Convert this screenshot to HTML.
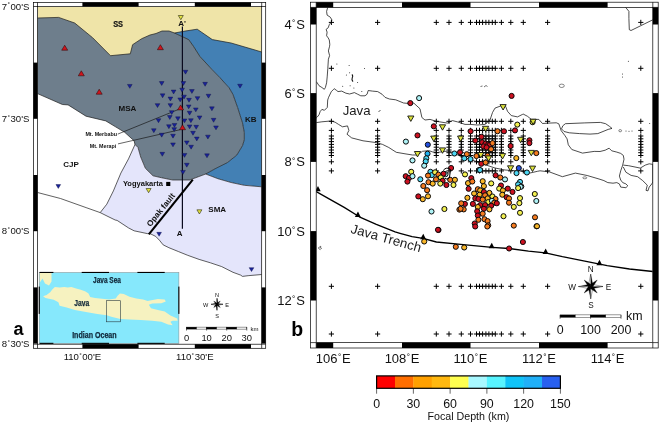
<!DOCTYPE html><html><head><meta charset="utf-8"><title>Figure</title><style>html,body{margin:0;padding:0;background:#fff;}svg{display:block;}</style></head><body>
<svg width="660" height="424" viewBox="0 0 660 424">
<rect width="660" height="424" fill="#fff"/>
<defs><clipPath id="lclip"><rect x="37.5" y="6.5" width="224.2" height="337.7"/></clipPath></defs>
<g clip-path="url(#lclip)">
<rect x="37.5" y="6.5" width="224.2" height="337.7" fill="#fff"/>
<rect x="37.5" y="6.5" width="224.2" height="60" fill="#efe4a8"/>
<polygon points="37.5,18.0 58.6,17.4 74.7,23.0 92.6,37.7 110.5,55.7 130.3,53.8 132.6,44.7 141.7,38.7 150.0,35.0 156.0,33.5 162.0,31.0 169.0,31.0 174.5,33.0 188.7,39.6 193.4,46.2 200.0,56.6 212.3,69.8 219.8,77.5 229.2,87.9 233.0,94.5 237.7,107.7 242.5,122.8 244.3,132.3 244.3,139.8 242.5,145.7 236.8,155.1 227.4,162.6 216.0,168.3 205.7,174.0 189.6,180.0 172.6,180.0 161.3,177.7 153.0,175.8 145.4,168.3 140.7,157.0 138.0,147.5 135.0,144.5 134.1,140.8 124.7,132.3 115.2,126.6 105.8,120.9 86.0,116.2 68.1,104.9 62.4,104.5 37.5,93.6" fill="#6e7e8c"/>
<polygon points="174.5,33.0 184.9,31.1 197.2,29.2 212.3,39.6 231.1,43.0 261.7,52.0 261.7,186.8 244.3,185.3 231.1,182.5 217.9,178.7 205.7,174.0 216.0,168.3 227.4,162.6 236.8,155.1 242.5,145.7 244.3,139.8 244.3,132.3 242.5,122.8 237.7,107.7 233.0,94.5 229.2,87.9 219.8,77.5 212.3,69.8 200.0,56.6 193.4,46.2 188.7,39.6 174.5,33.0" fill="#4380b4"/>
<polygon points="135.0,144.5 138.0,147.5 140.7,157.0 145.4,168.3 153.0,175.8 161.3,177.7 172.6,180.0 189.6,180.0 205.7,174.0 217.9,178.7 231.1,182.5 244.3,185.3 261.7,186.8 261.7,274.5 248.1,275.7 242.5,276.4 240.6,275.1 233.0,272.3 221.7,266.6 210.4,262.8 199.1,259.4 187.7,255.3 178.3,251.5 168.9,247.7 163.2,244.9 159.4,240.2 155.7,236.4 150.0,233.6 147.3,233.6 134.1,230.8 128.5,227.9 117.1,220.4 115.2,220.0 108.0,216.5 100.2,212.6 106.8,204.2 113.4,190.9 120.9,173.0 128.5,158.9 135.0,144.5" fill="#e4e5fb"/>
<polyline points="37.5,18.0 58.6,17.4 74.7,23.0 92.6,37.7 110.5,55.7 130.3,53.8 132.6,44.7 141.7,38.7 150.0,35.0 156.0,33.5 162.0,31.0 169.0,31.0 174.5,33.0" fill="none" stroke="#1c1c1c" stroke-width="0.7" stroke-linejoin="round"/>
<polyline points="174.5,33.0 188.7,39.6 193.4,46.2 200.0,56.6 212.3,69.8 219.8,77.5 229.2,87.9 233.0,94.5 237.7,107.7 242.5,122.8 244.3,132.3 244.3,139.8 242.5,145.7 236.8,155.1 227.4,162.6 216.0,168.3 205.7,174.0" fill="none" stroke="#1c1c1c" stroke-width="0.7" stroke-linejoin="round"/>
<polyline points="205.7,174.0 189.6,180.0 172.6,180.0 161.3,177.7 153.0,175.8 145.4,168.3 140.7,157.0 138.0,147.5 135.0,144.5" fill="none" stroke="#1c1c1c" stroke-width="0.7" stroke-linejoin="round"/>
<polyline points="135.0,144.5 134.1,140.8 124.7,132.3 115.2,126.6 105.8,120.9 86.0,116.2 68.1,104.9 62.4,104.5 37.5,93.6" fill="none" stroke="#1c1c1c" stroke-width="0.7" stroke-linejoin="round"/>
<polyline points="174.5,33.0 184.9,31.1 197.2,29.2 212.3,39.6 231.1,43.0 261.7,52.0" fill="none" stroke="#1c1c1c" stroke-width="0.7" stroke-linejoin="round"/>
<polyline points="205.7,174.0 217.9,178.7 231.1,182.5 244.3,185.3 261.7,186.8" fill="none" stroke="#1c1c1c" stroke-width="0.7" stroke-linejoin="round"/>
<polyline points="135.0,144.5 128.5,158.9 120.9,173.0 113.4,190.9 106.8,204.2 100.2,212.6" fill="none" stroke="#1c1c1c" stroke-width="0.7" stroke-linejoin="round"/>
<polyline points="37.5,192.5 60.5,198.5 86.9,207.9 100.2,212.6 108.0,216.5 115.2,220.0 117.1,220.4 128.5,227.9 134.1,230.8 147.3,233.6 150.0,233.6 155.7,236.4 159.4,240.2 163.2,244.9 168.9,247.7 178.3,251.5 187.7,255.3 199.1,259.4 210.4,262.8 221.7,266.6 233.0,272.3 240.6,275.1 242.5,276.4 248.1,275.7 261.7,274.5" fill="none" stroke="#1c1c1c" stroke-width="0.7" stroke-linejoin="round"/>
<line x1="182.4" y1="26.5" x2="182.4" y2="228.8" stroke="#0a0a1e" stroke-width="1.2"/>
<line x1="192.8" y1="179.6" x2="148.8" y2="234.4" stroke="#000" stroke-width="2.1"/>
<line x1="117.8" y1="134.1" x2="178.6" y2="109.4" stroke="#111" stroke-width="0.65"/>
<line x1="118" y1="143.9" x2="180.4" y2="129.6" stroke="#111" stroke-width="0.65"/>
<polygon points="183.15,70.25 187.85,70.25 185.50,74.15" fill="#18229a" stroke="#0c0c40" stroke-width="0.4"/>
<polygon points="159.35,81.55 164.05,81.55 161.70,85.45" fill="#18229a" stroke="#0c0c40" stroke-width="0.4"/>
<polygon points="181.05,81.55 185.75,81.55 183.40,85.45" fill="#18229a" stroke="#0c0c40" stroke-width="0.4"/>
<polygon points="202.75,82.35 207.45,82.35 205.10,86.25" fill="#18229a" stroke="#0c0c40" stroke-width="0.4"/>
<polygon points="237.65,84.25 242.35,84.25 240.00,88.15" fill="#18229a" stroke="#0c0c40" stroke-width="0.4"/>
<polygon points="127.45,84.45 132.15,84.45 129.80,88.35" fill="#18229a" stroke="#0c0c40" stroke-width="0.4"/>
<polygon points="171.25,90.05 175.95,90.05 173.60,93.95" fill="#18229a" stroke="#0c0c40" stroke-width="0.4"/>
<polygon points="179.75,88.15 184.45,88.15 182.10,92.05" fill="#18229a" stroke="#0c0c40" stroke-width="0.4"/>
<polygon points="189.55,89.55 194.25,89.55 191.90,93.45" fill="#18229a" stroke="#0c0c40" stroke-width="0.4"/>
<polygon points="160.25,93.85 164.95,93.85 162.60,97.75" fill="#18229a" stroke="#0c0c40" stroke-width="0.4"/>
<polygon points="168.05,97.05 172.75,97.05 170.40,100.95" fill="#18229a" stroke="#0c0c40" stroke-width="0.4"/>
<polygon points="177.85,97.95 182.55,97.95 180.20,101.85" fill="#18229a" stroke="#0c0c40" stroke-width="0.4"/>
<polygon points="181.65,95.15 186.35,95.15 184.00,99.05" fill="#18229a" stroke="#0c0c40" stroke-width="0.4"/>
<polygon points="186.65,98.35 191.35,98.35 189.00,102.25" fill="#18229a" stroke="#0c0c40" stroke-width="0.4"/>
<polygon points="195.15,96.65 199.85,96.65 197.50,100.55" fill="#18229a" stroke="#0c0c40" stroke-width="0.4"/>
<polygon points="206.15,94.25 210.85,94.25 208.50,98.15" fill="#18229a" stroke="#0c0c40" stroke-width="0.4"/>
<polygon points="155.15,103.65 159.85,103.65 157.50,107.55" fill="#18229a" stroke="#0c0c40" stroke-width="0.4"/>
<polygon points="168.05,103.65 172.75,103.65 170.40,107.55" fill="#18229a" stroke="#0c0c40" stroke-width="0.4"/>
<polygon points="186.35,104.95 191.05,104.95 188.70,108.85" fill="#18229a" stroke="#0c0c40" stroke-width="0.4"/>
<polygon points="193.45,107.95 198.15,107.95 195.80,111.85" fill="#18229a" stroke="#0c0c40" stroke-width="0.4"/>
<polygon points="209.55,106.85 214.25,106.85 211.90,110.75" fill="#18229a" stroke="#0c0c40" stroke-width="0.4"/>
<polygon points="169.35,110.65 174.05,110.65 171.70,114.55" fill="#18229a" stroke="#0c0c40" stroke-width="0.4"/>
<polygon points="187.25,111.25 191.95,111.25 189.60,115.15" fill="#18229a" stroke="#0c0c40" stroke-width="0.4"/>
<polygon points="156.15,118.75 160.85,118.75 158.50,122.65" fill="#18229a" stroke="#0c0c40" stroke-width="0.4"/>
<polygon points="167.45,115.55 172.15,115.55 169.80,119.45" fill="#18229a" stroke="#0c0c40" stroke-width="0.4"/>
<polygon points="175.55,116.85 180.25,116.85 177.90,120.75" fill="#18229a" stroke="#0c0c40" stroke-width="0.4"/>
<polygon points="182.15,118.95 186.85,118.95 184.50,122.85" fill="#18229a" stroke="#0c0c40" stroke-width="0.4"/>
<polygon points="188.55,118.75 193.25,118.75 190.90,122.65" fill="#18229a" stroke="#0c0c40" stroke-width="0.4"/>
<polygon points="197.25,115.95 201.95,115.95 199.60,119.85" fill="#18229a" stroke="#0c0c40" stroke-width="0.4"/>
<polygon points="211.25,118.35 215.95,118.35 213.60,122.25" fill="#18229a" stroke="#0c0c40" stroke-width="0.4"/>
<polygon points="151.45,128.75 156.15,128.75 153.80,132.65" fill="#18229a" stroke="#0c0c40" stroke-width="0.4"/>
<polygon points="166.55,124.75 171.25,124.75 168.90,128.65" fill="#18229a" stroke="#0c0c40" stroke-width="0.4"/>
<polygon points="172.15,123.45 176.85,123.45 174.50,127.35" fill="#18229a" stroke="#0c0c40" stroke-width="0.4"/>
<polygon points="171.85,127.65 176.55,127.65 174.20,131.55" fill="#18229a" stroke="#0c0c40" stroke-width="0.4"/>
<polygon points="187.25,124.95 191.95,124.95 189.60,128.85" fill="#18229a" stroke="#0c0c40" stroke-width="0.4"/>
<polygon points="193.85,125.35 198.55,125.35 196.20,129.25" fill="#18229a" stroke="#0c0c40" stroke-width="0.4"/>
<polygon points="213.65,125.95 218.35,125.95 216.00,129.85" fill="#18229a" stroke="#0c0c40" stroke-width="0.4"/>
<polygon points="159.35,133.25 164.05,133.25 161.70,137.15" fill="#18229a" stroke="#0c0c40" stroke-width="0.4"/>
<polygon points="170.65,134.25 175.35,134.25 173.00,138.15" fill="#18229a" stroke="#0c0c40" stroke-width="0.4"/>
<polygon points="190.65,131.35 195.35,131.35 193.00,135.25" fill="#18229a" stroke="#0c0c40" stroke-width="0.4"/>
<polygon points="194.45,137.05 199.15,137.05 196.80,140.95" fill="#18229a" stroke="#0c0c40" stroke-width="0.4"/>
<polygon points="205.55,135.15 210.25,135.15 207.90,139.05" fill="#18229a" stroke="#0c0c40" stroke-width="0.4"/>
<polygon points="170.65,142.95 175.35,142.95 173.00,146.85" fill="#18229a" stroke="#0c0c40" stroke-width="0.4"/>
<polygon points="184.45,140.95 189.15,140.95 186.80,144.85" fill="#18229a" stroke="#0c0c40" stroke-width="0.4"/>
<polygon points="188.75,145.25 193.45,145.25 191.10,149.15" fill="#18229a" stroke="#0c0c40" stroke-width="0.4"/>
<polygon points="159.95,152.35 164.65,152.35 162.30,156.25" fill="#18229a" stroke="#0c0c40" stroke-width="0.4"/>
<polygon points="182.15,153.45 186.85,153.45 184.50,157.35" fill="#18229a" stroke="#0c0c40" stroke-width="0.4"/>
<polygon points="204.65,153.85 209.35,153.85 207.00,157.75" fill="#18229a" stroke="#0c0c40" stroke-width="0.4"/>
<polygon points="184.45,163.25 189.15,163.25 186.80,167.15" fill="#18229a" stroke="#0c0c40" stroke-width="0.4"/>
<polygon points="180.65,170.45 185.35,170.45 183.00,174.35" fill="#18229a" stroke="#0c0c40" stroke-width="0.4"/>
<polygon points="55.95,184.55 60.65,184.55 58.30,188.45" fill="#18229a" stroke="#0c0c40" stroke-width="0.4"/>
<polygon points="156.75,232.35 161.45,232.35 159.10,236.25" fill="#18229a" stroke="#0c0c40" stroke-width="0.4"/>
<polygon points="249.15,267.65 253.85,267.65 251.50,271.55" fill="#18229a" stroke="#0c0c40" stroke-width="0.4"/>
<polygon points="61.70,50.20 67.70,50.20 64.70,45.20" fill="#d0141c" stroke="#2a0808" stroke-width="0.55"/>
<polygon points="78.30,75.80 84.30,75.80 81.30,70.80" fill="#d0141c" stroke="#2a0808" stroke-width="0.55"/>
<polygon points="96.20,94.20 102.20,94.20 99.20,89.20" fill="#d0141c" stroke="#2a0808" stroke-width="0.55"/>
<polygon points="157.40,49.70 163.40,49.70 160.40,44.70" fill="#d0141c" stroke="#2a0808" stroke-width="0.55"/>
<polygon points="177.60,109.90 183.60,109.90 180.60,104.90" fill="#d0141c" stroke="#2a0808" stroke-width="0.55"/>
<polygon points="179.50,129.70 185.50,129.70 182.50,124.70" fill="#d0141c" stroke="#2a0808" stroke-width="0.55"/>
<polygon points="178.30,15.50 183.30,15.50 180.80,19.70" fill="#e2e240" stroke="#2a2a10" stroke-width="0.6"/>
<polygon points="146.10,188.50 151.10,188.50 148.60,192.70" fill="#e2e240" stroke="#2a2a10" stroke-width="0.6"/>
<polygon points="196.90,209.80 201.90,209.80 199.40,214.00" fill="#e2e240" stroke="#2a2a10" stroke-width="0.6"/>
<rect x="166.2" y="181.9" width="4.1" height="4.1" fill="#000"/>
<text x="118.10" y="26.60" font-family="'Liberation Sans', Arial, Helvetica, sans-serif" font-size="9.7" font-weight="bold" text-anchor="middle" fill="#111" textLength="9.9" lengthAdjust="spacingAndGlyphs" stroke="#111" stroke-width="0.2">SS</text>
<text x="127.45" y="110.60" font-family="'Liberation Sans', Arial, Helvetica, sans-serif" font-size="8" font-weight="bold" text-anchor="middle" fill="#111" >MSA</text>
<text x="71.00" y="166.60" font-family="'Liberation Sans', Arial, Helvetica, sans-serif" font-size="8" font-weight="bold" text-anchor="middle" fill="#111" >CJP</text>
<text x="250.75" y="121.70" font-family="'Liberation Sans', Arial, Helvetica, sans-serif" font-size="8" font-weight="bold" text-anchor="middle" fill="#111" >KB</text>
<text x="217.25" y="211.90" font-family="'Liberation Sans', Arial, Helvetica, sans-serif" font-size="8" font-weight="bold" text-anchor="middle" fill="#111" >SMA</text>
<text x="182.20" y="26.20" font-family="'Liberation Sans', Arial, Helvetica, sans-serif" font-size="8" font-weight="bold" text-anchor="middle" fill="#111" >A'</text>
<text x="179.70" y="236.00" font-family="'Liberation Sans', Arial, Helvetica, sans-serif" font-size="8" font-weight="bold" text-anchor="middle" fill="#111" >A</text>
<text x="122.90" y="186.00" font-family="'Liberation Sans', Arial, Helvetica, sans-serif" font-size="7.3" font-weight="bold" text-anchor="start" fill="#111" textLength="40" lengthAdjust="spacingAndGlyphs">Yogyakarta</text>
<text x="117.00" y="136.10" font-family="'Liberation Sans', Arial, Helvetica, sans-serif" font-size="5.6" font-weight="bold" text-anchor="end" fill="#111" textLength="31.6" lengthAdjust="spacingAndGlyphs">Mt. Merbabu</text>
<text x="116.30" y="147.90" font-family="'Liberation Sans', Arial, Helvetica, sans-serif" font-size="5.6" font-weight="bold" text-anchor="end" fill="#111" textLength="26.5" lengthAdjust="spacingAndGlyphs">Mt. Merapi</text>
<g transform="translate(163.0,211.6) rotate(-51.2)"><text x="0.00" y="0.00" font-family="'Liberation Sans', Arial, Helvetica, sans-serif" font-size="8.2" font-weight="bold" text-anchor="middle" fill="#111" >Opak fault</text></g>
<polygon points="217.00,304.30 218.02,303.28 217.00,298.30" fill="#000" stroke="#000" stroke-width="0.3"/>
<polygon points="217.00,304.30 215.98,303.28 217.00,298.30" fill="#fff" stroke="#000" stroke-width="0.35"/>
<polygon points="217.00,304.30 218.02,305.32 223.00,304.30" fill="#000" stroke="#000" stroke-width="0.3"/>
<polygon points="217.00,304.30 218.02,303.28 223.00,304.30" fill="#fff" stroke="#000" stroke-width="0.35"/>
<polygon points="217.00,304.30 215.98,305.32 217.00,310.30" fill="#000" stroke="#000" stroke-width="0.3"/>
<polygon points="217.00,304.30 218.02,305.32 217.00,310.30" fill="#fff" stroke="#000" stroke-width="0.35"/>
<polygon points="217.00,304.30 215.98,303.28 211.00,304.30" fill="#000" stroke="#000" stroke-width="0.3"/>
<polygon points="217.00,304.30 215.98,305.32 211.00,304.30" fill="#fff" stroke="#000" stroke-width="0.35"/>
<polygon points="218.15,304.30 220.25,301.05 217.00,303.15 217.00,304.30" fill="#000" stroke="#000" stroke-width="0.3"/>
<polygon points="217.00,305.45 220.25,307.55 218.15,304.30 217.00,304.30" fill="#000" stroke="#000" stroke-width="0.3"/>
<polygon points="215.85,304.30 213.75,307.55 217.00,305.45 217.00,304.30" fill="#000" stroke="#000" stroke-width="0.3"/>
<polygon points="217.00,303.15 213.75,301.05 215.85,304.30 217.00,304.30" fill="#000" stroke="#000" stroke-width="0.3"/>
<text x="217.00" y="296.60" font-family="'Liberation Sans', Arial, Helvetica, sans-serif" font-size="5.6" font-weight="normal" text-anchor="middle" fill="#111" >N</text>
<text x="217.00" y="317.50" font-family="'Liberation Sans', Arial, Helvetica, sans-serif" font-size="5.6" font-weight="normal" text-anchor="middle" fill="#111" >S</text>
<text x="205.70" y="306.60" font-family="'Liberation Sans', Arial, Helvetica, sans-serif" font-size="5.6" font-weight="normal" text-anchor="middle" fill="#111" >W</text>
<text x="227.10" y="307.00" font-family="'Liberation Sans', Arial, Helvetica, sans-serif" font-size="5.6" font-weight="normal" text-anchor="middle" fill="#111" >E</text>
<rect x="186.50" y="327.10" width="10.05" height="2.00" fill="#000" stroke="#000" stroke-width="0.4"/>
<rect x="196.55" y="327.10" width="10.05" height="2.00" fill="#fff" stroke="#000" stroke-width="0.4"/>
<rect x="206.60" y="327.10" width="10.05" height="2.00" fill="#000" stroke="#000" stroke-width="0.4"/>
<rect x="216.65" y="327.10" width="10.05" height="2.00" fill="#fff" stroke="#000" stroke-width="0.4"/>
<rect x="226.70" y="327.10" width="10.05" height="2.00" fill="#000" stroke="#000" stroke-width="0.4"/>
<rect x="236.75" y="327.10" width="10.05" height="2.00" fill="#fff" stroke="#000" stroke-width="0.4"/>
<line x1="186.50" y1="327.10" x2="186.50" y2="330.60" stroke="#000" stroke-width="0.5"/>
<text x="186.50" y="340.60" font-family="'Liberation Sans', Arial, Helvetica, sans-serif" font-size="9.4" font-weight="normal" text-anchor="middle" fill="#111" >0</text>
<line x1="206.60" y1="327.10" x2="206.60" y2="330.60" stroke="#000" stroke-width="0.5"/>
<text x="206.60" y="340.60" font-family="'Liberation Sans', Arial, Helvetica, sans-serif" font-size="9.4" font-weight="normal" text-anchor="middle" fill="#111" >10</text>
<line x1="226.70" y1="327.10" x2="226.70" y2="330.60" stroke="#000" stroke-width="0.5"/>
<text x="226.70" y="340.60" font-family="'Liberation Sans', Arial, Helvetica, sans-serif" font-size="9.4" font-weight="normal" text-anchor="middle" fill="#111" >20</text>
<line x1="246.80" y1="327.10" x2="246.80" y2="330.60" stroke="#000" stroke-width="0.5"/>
<text x="246.80" y="340.60" font-family="'Liberation Sans', Arial, Helvetica, sans-serif" font-size="9.4" font-weight="normal" text-anchor="middle" fill="#111" >30</text>
<text x="250.50" y="331.30" font-family="'Liberation Sans', Arial, Helvetica, sans-serif" font-size="6" font-weight="normal" text-anchor="start" fill="#111" >km</text>
</g>
<rect x="39.2" y="272.4" width="139.7" height="71.0" fill="#86e8fc"/>
<polygon points="39.5,272.5 51.5,272.5 51.5,281.5 49.0,285.5 45.0,283.5 42.5,278.5 39.5,283.0" fill="#f6f2c0"/>
<polygon points="43.1,296.3 46.6,295.1 50.2,292.2 52.5,289.2 54.9,286.9 59.6,287.5 64.3,286.9 67.8,287.5 71.4,286.9 76.1,288.6 80.8,289.8 85.5,291.6 88.5,293.4 90.2,296.9 95.0,298.1 102.0,298.7 106.8,299.2 109.0,299.5 115.8,298.6 117.6,295.7 119.9,293.4 123.8,294.1 129.5,296.8 136.3,298.6 143.1,299.5 147.6,300.9 157.9,299.1 164.7,299.5 165.8,301.4 161.3,303.2 152.2,303.6 148.8,304.8 151.0,308.2 157.9,310.0 164.7,311.6 170.4,315.5 177.2,318.4 177.6,320.7 172.6,320.7 170.4,321.8 172.6,325.2 168.1,324.5 161.3,321.8 152.2,320.7 140.8,320.0 129.5,319.5 120.4,319.1 111.3,316.8 106.8,315.2 97.3,314.0 90.2,312.8 83.2,311.6 74.9,309.9 66.7,307.5 59.6,305.7 58.4,302.2 53.7,299.8 45.4,298.1" fill="#f6f2c0"/>
<rect x="106.3" y="300.7" width="14.1" height="21.1" fill="none" stroke="#2a3a40" stroke-width="0.6"/>
<text x="107.00" y="283.00" font-family="'Liberation Sans', Arial, Helvetica, sans-serif" font-size="8.6" font-weight="bold" text-anchor="middle" fill="#10283a" textLength="28" lengthAdjust="spacingAndGlyphs" stroke="#10283a" stroke-width="0.25">Java Sea</text>
<text x="81.70" y="305.60" font-family="'Liberation Sans', Arial, Helvetica, sans-serif" font-size="8.6" font-weight="bold" text-anchor="middle" fill="#10283a" textLength="15" lengthAdjust="spacingAndGlyphs" stroke="#10283a" stroke-width="0.25">Java</text>
<text x="94.40" y="337.50" font-family="'Liberation Sans', Arial, Helvetica, sans-serif" font-size="8.6" font-weight="bold" text-anchor="middle" fill="#10283a" textLength="44.5" lengthAdjust="spacingAndGlyphs" stroke="#10283a" stroke-width="0.25">Indian Ocean</text>
<rect x="39.2" y="272.4" width="139.7" height="71.0" fill="none" stroke="#888" stroke-width="0.5"/>
<rect x="39.6" y="271.9" width="13.799999999999997" height="1.1" fill="#000"/>
<rect x="39.6" y="342.79999999999995" width="13.799999999999997" height="1.1" fill="#000"/>
<rect x="81.7" y="271.9" width="27.299999999999997" height="1.1" fill="#000"/>
<rect x="81.7" y="342.79999999999995" width="27.299999999999997" height="1.1" fill="#000"/>
<rect x="137.4" y="271.9" width="27.299999999999983" height="1.1" fill="#000"/>
<rect x="137.4" y="342.79999999999995" width="27.299999999999983" height="1.1" fill="#000"/>
<rect x="178.3" y="286.6" width="1.1" height="27.299999999999955" fill="#000"/>
<rect x="38.7" y="286.6" width="1.1" height="27.299999999999955" fill="#000"/>
<rect x="82.40" y="2.40" width="56.20" height="4.10" fill="#000"/>
<rect x="82.40" y="344.20" width="56.20" height="4.10" fill="#000"/>
<rect x="194.80" y="2.40" width="56.20" height="4.10" fill="#000"/>
<rect x="194.80" y="344.20" width="56.20" height="4.10" fill="#000"/>
<rect x="33.40" y="62.60" width="4.10" height="56.20" fill="#000"/>
<rect x="261.70" y="62.60" width="4.00" height="56.20" fill="#000"/>
<rect x="33.40" y="175.00" width="4.10" height="56.20" fill="#000"/>
<rect x="261.70" y="175.00" width="4.00" height="56.20" fill="#000"/>
<rect x="33.40" y="287.40" width="4.10" height="56.20" fill="#000"/>
<rect x="261.70" y="287.40" width="4.00" height="56.20" fill="#000"/>
<rect x="33.40" y="2.40" width="232.30" height="345.90" fill="none" stroke="#000" stroke-width="0.7"/>
<rect x="37.50" y="6.50" width="224.20" height="337.70" fill="none" stroke="#000" stroke-width="0.7"/>
<path d="M37.50,2.40V6.50M261.70,2.40V6.50M37.50,344.20V348.30M261.70,344.20V348.30M33.40,6.50H37.50M261.70,6.50H265.70M33.40,344.20H37.50M261.70,344.20H265.70" stroke="#000" stroke-width="0.7" fill="none"/>
<text x="29.40" y="9.65" font-family="'Liberation Sans', Arial, Helvetica, sans-serif" font-size="9.6" font-weight="normal" text-anchor="end" fill="#111" >7<tspan font-size="7.2" dx="0.45" dy="-1.2">˚</tspan><tspan dx="0.45" dy="1.2">00'S</tspan></text>
<text x="29.40" y="121.95" font-family="'Liberation Sans', Arial, Helvetica, sans-serif" font-size="9.6" font-weight="normal" text-anchor="end" fill="#111" >7<tspan font-size="7.2" dx="0.45" dy="-1.2">˚</tspan><tspan dx="0.45" dy="1.2">30'S</tspan></text>
<text x="29.40" y="234.35" font-family="'Liberation Sans', Arial, Helvetica, sans-serif" font-size="9.6" font-weight="normal" text-anchor="end" fill="#111" >8<tspan font-size="7.2" dx="0.45" dy="-1.2">˚</tspan><tspan dx="0.45" dy="1.2">00'S</tspan></text>
<text x="29.40" y="347.35" font-family="'Liberation Sans', Arial, Helvetica, sans-serif" font-size="9.6" font-weight="normal" text-anchor="end" fill="#111" >8<tspan font-size="7.2" dx="0.45" dy="-1.2">˚</tspan><tspan dx="0.45" dy="1.2">30'S</tspan></text>
<text x="82.40" y="359.80" font-family="'Liberation Sans', Arial, Helvetica, sans-serif" font-size="9.6" font-weight="normal" text-anchor="middle" fill="#111" >110<tspan font-size="7.2" dx="0.45" dy="-1.2">˚</tspan><tspan dx="0.45" dy="1.2">00'E</tspan></text>
<text x="194.80" y="359.80" font-family="'Liberation Sans', Arial, Helvetica, sans-serif" font-size="9.6" font-weight="normal" text-anchor="middle" fill="#111" >110<tspan font-size="7.2" dx="0.45" dy="-1.2">˚</tspan><tspan dx="0.45" dy="1.2">30'E</tspan></text>
<text x="18.50" y="335.30" font-family="'Liberation Sans', Arial, Helvetica, sans-serif" font-size="18" font-weight="bold" text-anchor="middle" fill="#000" >a</text>
<defs><clipPath id="rclip"><rect x="316.2" y="7.4" width="336.59999999999997" height="335.20000000000005"/></clipPath></defs>
<g clip-path="url(#rclip)">
<polyline points="327.7,7.4 326.6,11.4 327.1,15.1 330.3,17.2 331.9,19.9 331.4,22.0 329.3,24.6 328.2,27.8 326.1,29.4 327.1,32.1 326.6,35.8 328.2,37.9 329.3,40.0 329.8,44.3 329.6,46.2 328.4,50.9 329.6,55.6 328.4,59.2 327.8,68.6 327.2,76.9 326.6,82.8 325.4,87.5 324.3,89.3 321.9,87.5 319.0,85.7 317.2,82.8 316.2,81.6" fill="none" stroke="#000" stroke-width="0.7" stroke-linejoin="round"/>
<polyline points="316.2,118.0 317.0,117.3 319.0,114.8 320.2,111.5 321.9,109.4 324.4,110.3 327.3,107.4 327.7,100.0 328.6,97.3 331.3,91.6 333.7,89.3 334.2,88.7 336.7,90.5 338.0,91.6 341.7,91.1 345.9,93.2 349.6,94.0 354.4,92.6 357.6,94.2 360.8,95.8 365.0,95.8 367.1,94.2 368.2,90.5 372.4,91.1 377.7,91.6 382.0,94.2 385.1,97.4 389.4,99.0 395.7,99.8 403.6,103.0 410.2,103.6 413.8,103.1 420.0,108.8 421.9,117.5 425.0,120.0 430.0,119.4 436.3,121.3 447.5,123.1 452.5,120.6 457.5,121.9 465.0,124.4 470.0,124.4 477.5,125.0 485.0,124.4 490.0,120.0 492.5,112.5 495.0,108.1 500.6,106.0 505.6,106.3 507.5,111.3 511.3,115.6 517.5,116.9 522.5,114.4 523.1,114.0 527.5,116.3 531.3,119.4 538.8,119.4 542.5,123.5 548.8,123.1 556.3,122.8 558.8,123.8 561.2,130.7 564.8,135.4 567.1,138.9 568.3,144.8 571.8,149.5 582.5,153.1 594.2,151.4 600.0,151.5 605.2,150.2 609.1,148.2 611.7,150.8 616.8,152.1 620.7,153.4 623.3,155.4 624.0,159.2 622.7,165.1 620.7,170.9 619.4,176.1 620.7,180.0 622.7,182.6 625.9,183.9 627.8,185.8 625.9,187.7 620.7,187.1 619.4,183.9 616.8,182.6 613.0,183.2 607.8,182.6 603.9,180.6 600.0,179.3 587.2,175.5 575.4,173.1 562.4,176.7 549.4,171.9 540.0,170.8 537.5,171.3 530.0,173.0 520.0,171.0 505.0,170.0 495.0,168.0 486.0,165.0 475.0,161.0 460.0,156.0 450.0,151.3 445.0,151.3 437.5,152.5 432.5,151.9 428.8,150.6 422.5,151.3 417.5,155.0 412.5,155.0 405.0,153.8 396.3,152.3 388.8,147.5 382.5,144.4 376.3,142.6 363.0,140.8 351.7,137.9 347.0,134.2 348.9,130.4 347.5,125.9 342.5,126.8 338.4,124.3 335.1,122.2 331.8,121.2 328.5,121.2 321.9,121.8 316.2,122.6" fill="none" stroke="#000" stroke-width="0.7" stroke-linejoin="round"/>
<polygon points="565.4,123.7 584.8,122.9 600.4,122.4 605.6,123.7 609.4,126.3 612.0,128.4 608.2,129.4 603.0,131.5 597.8,133.6 590.0,134.1 579.6,133.6 569.3,132.8 564.1,131.5 561.5,128.9 562.8,125.8" fill="none" stroke="#000" stroke-width="0.7" stroke-linejoin="round"/>
<polyline points="623.3,165.1 628.5,165.7 635.0,167.0 640.2,168.1 645.3,165.1 649.2,163.8 652.8,164.4 652.8,182.0 651.8,183.9 649.2,187.1 647.9,190.9 646.0,190.3 647.3,185.2 642.7,180.6 637.6,176.7 631.1,175.4 625.9,172.2 623.3,167.0" fill="none" stroke="#000" stroke-width="0.7" stroke-linejoin="round"/>
<polyline points="625.3,7.0 628.9,11.3 628.9,18.4 629.3,29.7 631.0,30.5 652.8,19.8" fill="none" stroke="#000" stroke-width="0.7" stroke-linejoin="round"/>
<ellipse cx="561.7" cy="85.8" rx="2.6" ry="1.7" fill="none" stroke="#111" stroke-width="0.5"/>
<ellipse cx="584.8" cy="177.8" rx="2" ry="1" fill="none" stroke="#111" stroke-width="0.5"/>
<ellipse cx="620.2" cy="130.7" rx="1.4" ry="1.1" fill="none" stroke="#111" stroke-width="0.5"/>
<path d="M352,74.4 q1.4,1.6 0.2,3.6 q-0.8,1.8 0.8,3.6" fill="none" stroke="#111" stroke-width="1.1"/>
<path d="M480.5,86.5 l2,-0.5 M484,87 l2,-1.5 l1.5,1" fill="none" stroke="#111" stroke-width="0.6"/>
<path d="M318.2,248 l2.6,-1.8 l-0.4,1.6 l1.2,0.4 l-1.4,1.4 z" fill="none" stroke="#222" stroke-width="0.6"/>
<circle cx="336.9" cy="64" r="0.5" fill="#222"/>
<circle cx="349.1" cy="65.6" r="0.5" fill="#222"/>
<circle cx="364.5" cy="68.6" r="0.5" fill="#222"/>
<circle cx="349.6" cy="72.8" r="0.5" fill="#222"/>
<circle cx="346.4" cy="75.1" r="0.5" fill="#222"/>
<circle cx="357.6" cy="82.4" r="0.5" fill="#222"/>
<circle cx="342.7" cy="86.3" r="0.5" fill="#222"/>
<circle cx="350.1" cy="85.8" r="0.5" fill="#222"/>
<circle cx="353.9" cy="87.9" r="0.5" fill="#222"/>
<circle cx="361.8" cy="91.6" r="0.5" fill="#222"/>
<circle cx="622.5" cy="74" r="0.5" fill="#222"/>
<circle cx="622.5" cy="77" r="0.5" fill="#222"/>
<circle cx="628.4" cy="61.3" r="0.5" fill="#222"/>
<circle cx="626" cy="131" r="0.5" fill="#222"/>
<circle cx="629" cy="131.3" r="0.5" fill="#222"/>
<circle cx="632" cy="131" r="0.5" fill="#222"/>
<circle cx="649.7" cy="123.6" r="0.5" fill="#222"/>
<circle cx="379" cy="111.5" r="0.5" fill="#222"/>
<circle cx="380" cy="110.5" r="0.5" fill="#222"/>
<path d="M328.8,22.4h5.2M331.4,19.8v5.2M375.0,22.4h5.2M377.6,19.8v5.2M433.7,22.4h5.2M436.3,19.8v5.2M446.4,22.4h5.2M449.0,19.8v5.2M458.7,22.4h5.2M461.3,19.8v5.2M467.9,22.4h5.2M470.5,19.8v5.2M473.9,22.4h5.2M476.5,19.8v5.2M476.9,22.4h5.2M479.5,19.8v5.2M480.0,22.4h5.2M482.6,19.8v5.2M483.3,22.4h5.2M485.9,19.8v5.2M486.3,22.4h5.2M488.9,19.8v5.2M489.7,22.4h5.2M492.3,19.8v5.2M492.7,22.4h5.2M495.3,19.8v5.2M498.8,22.4h5.2M501.4,19.8v5.2M508.2,22.4h5.2M510.8,19.8v5.2M520.7,22.4h5.2M523.3,19.8v5.2M545.0,22.4h5.2M547.6,19.8v5.2M638.2,22.4h5.2M640.8,19.8v5.2M328.8,68.3h5.2M331.4,65.7v5.2M375.0,68.3h5.2M377.6,65.7v5.2M433.7,68.3h5.2M436.3,65.7v5.2M446.4,68.3h5.2M449.0,65.7v5.2M458.7,68.3h5.2M461.3,65.7v5.2M467.9,68.3h5.2M470.5,65.7v5.2M473.9,68.3h5.2M476.5,65.7v5.2M476.9,68.3h5.2M479.5,65.7v5.2M480.0,68.3h5.2M482.6,65.7v5.2M483.3,68.3h5.2M485.9,65.7v5.2M486.3,68.3h5.2M488.9,65.7v5.2M489.7,68.3h5.2M492.3,65.7v5.2M492.7,68.3h5.2M495.3,65.7v5.2M498.8,68.3h5.2M501.4,65.7v5.2M508.2,68.3h5.2M510.8,65.7v5.2M520.7,68.3h5.2M523.3,65.7v5.2M545.0,68.3h5.2M547.6,65.7v5.2M638.2,68.3h5.2M640.8,65.7v5.2M328.8,121.3h5.2M331.4,118.7v5.2M375.0,121.3h5.2M377.6,118.7v5.2M433.7,121.3h5.2M436.3,118.7v5.2M446.4,121.3h5.2M449.0,118.7v5.2M458.7,121.3h5.2M461.3,118.7v5.2M467.9,121.3h5.2M470.5,118.7v5.2M473.9,121.3h5.2M476.5,118.7v5.2M476.9,121.3h5.2M479.5,118.7v5.2M480.0,121.3h5.2M482.6,118.7v5.2M483.3,121.3h5.2M485.9,118.7v5.2M486.3,121.3h5.2M488.9,118.7v5.2M489.7,121.3h5.2M492.3,118.7v5.2M492.7,121.3h5.2M495.3,118.7v5.2M498.8,121.3h5.2M501.4,118.7v5.2M508.2,121.3h5.2M510.8,118.7v5.2M520.7,121.3h5.2M523.3,118.7v5.2M545.0,121.3h5.2M547.6,118.7v5.2M638.2,121.3h5.2M640.8,118.7v5.2M328.8,130.4h5.2M331.4,127.8v5.2M375.0,130.4h5.2M377.6,127.8v5.2M433.7,130.4h5.2M436.3,127.8v5.2M446.4,130.4h5.2M449.0,127.8v5.2M458.7,130.4h5.2M461.3,127.8v5.2M467.9,130.4h5.2M470.5,127.8v5.2M473.9,130.4h5.2M476.5,127.8v5.2M476.9,130.4h5.2M479.5,127.8v5.2M480.0,130.4h5.2M482.6,127.8v5.2M483.3,130.4h5.2M485.9,127.8v5.2M486.3,130.4h5.2M488.9,127.8v5.2M489.7,130.4h5.2M492.3,127.8v5.2M492.7,130.4h5.2M495.3,127.8v5.2M498.8,130.4h5.2M501.4,127.8v5.2M508.2,130.4h5.2M510.8,127.8v5.2M520.7,130.4h5.2M523.3,127.8v5.2M545.0,130.4h5.2M547.6,127.8v5.2M638.2,130.4h5.2M640.8,127.8v5.2M328.8,136.0h5.2M331.4,133.4v5.2M375.0,136.0h5.2M377.6,133.4v5.2M433.7,136.0h5.2M436.3,133.4v5.2M446.4,136.0h5.2M449.0,133.4v5.2M458.7,136.0h5.2M461.3,133.4v5.2M467.9,136.0h5.2M470.5,133.4v5.2M473.9,136.0h5.2M476.5,133.4v5.2M476.9,136.0h5.2M479.5,133.4v5.2M480.0,136.0h5.2M482.6,133.4v5.2M483.3,136.0h5.2M485.9,133.4v5.2M486.3,136.0h5.2M488.9,133.4v5.2M489.7,136.0h5.2M492.3,133.4v5.2M492.7,136.0h5.2M495.3,133.4v5.2M498.8,136.0h5.2M501.4,133.4v5.2M508.2,136.0h5.2M510.8,133.4v5.2M520.7,136.0h5.2M523.3,133.4v5.2M545.0,136.0h5.2M547.6,133.4v5.2M638.2,136.0h5.2M640.8,133.4v5.2M328.8,138.8h5.2M331.4,136.2v5.2M375.0,138.8h5.2M377.6,136.2v5.2M433.7,138.8h5.2M436.3,136.2v5.2M446.4,138.8h5.2M449.0,136.2v5.2M458.7,138.8h5.2M461.3,136.2v5.2M467.9,138.8h5.2M470.5,136.2v5.2M473.9,138.8h5.2M476.5,136.2v5.2M476.9,138.8h5.2M479.5,136.2v5.2M480.0,138.8h5.2M482.6,136.2v5.2M483.3,138.8h5.2M485.9,136.2v5.2M486.3,138.8h5.2M488.9,136.2v5.2M489.7,138.8h5.2M492.3,136.2v5.2M492.7,138.8h5.2M495.3,136.2v5.2M498.8,138.8h5.2M501.4,136.2v5.2M508.2,138.8h5.2M510.8,136.2v5.2M520.7,138.8h5.2M523.3,136.2v5.2M545.0,138.8h5.2M547.6,136.2v5.2M638.2,138.8h5.2M640.8,136.2v5.2M328.8,141.6h5.2M331.4,139.0v5.2M375.0,141.6h5.2M377.6,139.0v5.2M433.7,141.6h5.2M436.3,139.0v5.2M446.4,141.6h5.2M449.0,139.0v5.2M458.7,141.6h5.2M461.3,139.0v5.2M467.9,141.6h5.2M470.5,139.0v5.2M473.9,141.6h5.2M476.5,139.0v5.2M476.9,141.6h5.2M479.5,139.0v5.2M480.0,141.6h5.2M482.6,139.0v5.2M483.3,141.6h5.2M485.9,139.0v5.2M486.3,141.6h5.2M488.9,139.0v5.2M489.7,141.6h5.2M492.3,139.0v5.2M492.7,141.6h5.2M495.3,139.0v5.2M498.8,141.6h5.2M501.4,139.0v5.2M508.2,141.6h5.2M510.8,139.0v5.2M520.7,141.6h5.2M523.3,139.0v5.2M545.0,141.6h5.2M547.6,139.0v5.2M638.2,141.6h5.2M640.8,139.0v5.2M328.8,144.4h5.2M331.4,141.8v5.2M375.0,144.4h5.2M377.6,141.8v5.2M433.7,144.4h5.2M436.3,141.8v5.2M446.4,144.4h5.2M449.0,141.8v5.2M458.7,144.4h5.2M461.3,141.8v5.2M467.9,144.4h5.2M470.5,141.8v5.2M473.9,144.4h5.2M476.5,141.8v5.2M476.9,144.4h5.2M479.5,141.8v5.2M480.0,144.4h5.2M482.6,141.8v5.2M483.3,144.4h5.2M485.9,141.8v5.2M486.3,144.4h5.2M488.9,141.8v5.2M489.7,144.4h5.2M492.3,141.8v5.2M492.7,144.4h5.2M495.3,141.8v5.2M498.8,144.4h5.2M501.4,141.8v5.2M508.2,144.4h5.2M510.8,141.8v5.2M520.7,144.4h5.2M523.3,141.8v5.2M545.0,144.4h5.2M547.6,141.8v5.2M638.2,144.4h5.2M640.8,141.8v5.2M328.8,147.2h5.2M331.4,144.6v5.2M375.0,147.2h5.2M377.6,144.6v5.2M433.7,147.2h5.2M436.3,144.6v5.2M446.4,147.2h5.2M449.0,144.6v5.2M458.7,147.2h5.2M461.3,144.6v5.2M467.9,147.2h5.2M470.5,144.6v5.2M473.9,147.2h5.2M476.5,144.6v5.2M476.9,147.2h5.2M479.5,144.6v5.2M480.0,147.2h5.2M482.6,144.6v5.2M483.3,147.2h5.2M485.9,144.6v5.2M486.3,147.2h5.2M488.9,144.6v5.2M489.7,147.2h5.2M492.3,144.6v5.2M492.7,147.2h5.2M495.3,144.6v5.2M498.8,147.2h5.2M501.4,144.6v5.2M508.2,147.2h5.2M510.8,144.6v5.2M520.7,147.2h5.2M523.3,144.6v5.2M545.0,147.2h5.2M547.6,144.6v5.2M638.2,147.2h5.2M640.8,144.6v5.2M328.8,150.0h5.2M331.4,147.4v5.2M375.0,150.0h5.2M377.6,147.4v5.2M433.7,150.0h5.2M436.3,147.4v5.2M446.4,150.0h5.2M449.0,147.4v5.2M458.7,150.0h5.2M461.3,147.4v5.2M467.9,150.0h5.2M470.5,147.4v5.2M473.9,150.0h5.2M476.5,147.4v5.2M476.9,150.0h5.2M479.5,147.4v5.2M480.0,150.0h5.2M482.6,147.4v5.2M483.3,150.0h5.2M485.9,147.4v5.2M486.3,150.0h5.2M488.9,147.4v5.2M489.7,150.0h5.2M492.3,147.4v5.2M492.7,150.0h5.2M495.3,147.4v5.2M498.8,150.0h5.2M501.4,147.4v5.2M508.2,150.0h5.2M510.8,147.4v5.2M520.7,150.0h5.2M523.3,147.4v5.2M545.0,150.0h5.2M547.6,147.4v5.2M638.2,150.0h5.2M640.8,147.4v5.2M328.8,152.7h5.2M331.4,150.1v5.2M375.0,152.7h5.2M377.6,150.1v5.2M433.7,152.7h5.2M436.3,150.1v5.2M446.4,152.7h5.2M449.0,150.1v5.2M458.7,152.7h5.2M461.3,150.1v5.2M467.9,152.7h5.2M470.5,150.1v5.2M473.9,152.7h5.2M476.5,150.1v5.2M476.9,152.7h5.2M479.5,150.1v5.2M480.0,152.7h5.2M482.6,150.1v5.2M483.3,152.7h5.2M485.9,150.1v5.2M486.3,152.7h5.2M488.9,150.1v5.2M489.7,152.7h5.2M492.3,150.1v5.2M492.7,152.7h5.2M495.3,150.1v5.2M498.8,152.7h5.2M501.4,150.1v5.2M508.2,152.7h5.2M510.8,150.1v5.2M520.7,152.7h5.2M523.3,150.1v5.2M545.0,152.7h5.2M547.6,150.1v5.2M638.2,152.7h5.2M640.8,150.1v5.2M328.8,155.5h5.2M331.4,152.9v5.2M375.0,155.5h5.2M377.6,152.9v5.2M433.7,155.5h5.2M436.3,152.9v5.2M446.4,155.5h5.2M449.0,152.9v5.2M458.7,155.5h5.2M461.3,152.9v5.2M467.9,155.5h5.2M470.5,152.9v5.2M473.9,155.5h5.2M476.5,152.9v5.2M476.9,155.5h5.2M479.5,152.9v5.2M480.0,155.5h5.2M482.6,152.9v5.2M483.3,155.5h5.2M485.9,152.9v5.2M486.3,155.5h5.2M488.9,152.9v5.2M489.7,155.5h5.2M492.3,152.9v5.2M492.7,155.5h5.2M495.3,152.9v5.2M498.8,155.5h5.2M501.4,152.9v5.2M508.2,155.5h5.2M510.8,152.9v5.2M520.7,155.5h5.2M523.3,152.9v5.2M545.0,155.5h5.2M547.6,152.9v5.2M638.2,155.5h5.2M640.8,152.9v5.2M328.8,161.8h5.2M331.4,159.2v5.2M375.0,161.8h5.2M377.6,159.2v5.2M433.7,161.8h5.2M436.3,159.2v5.2M446.4,161.8h5.2M449.0,159.2v5.2M458.7,161.8h5.2M461.3,159.2v5.2M467.9,161.8h5.2M470.5,159.2v5.2M473.9,161.8h5.2M476.5,159.2v5.2M476.9,161.8h5.2M479.5,159.2v5.2M480.0,161.8h5.2M482.6,159.2v5.2M483.3,161.8h5.2M485.9,159.2v5.2M486.3,161.8h5.2M488.9,159.2v5.2M489.7,161.8h5.2M492.3,159.2v5.2M492.7,161.8h5.2M495.3,159.2v5.2M498.8,161.8h5.2M501.4,159.2v5.2M508.2,161.8h5.2M510.8,159.2v5.2M520.7,161.8h5.2M523.3,159.2v5.2M545.0,161.8h5.2M547.6,159.2v5.2M638.2,161.8h5.2M640.8,159.2v5.2M328.8,170.9h5.2M331.4,168.3v5.2M375.0,170.9h5.2M377.6,168.3v5.2M433.7,170.9h5.2M436.3,168.3v5.2M446.4,170.9h5.2M449.0,168.3v5.2M458.7,170.9h5.2M461.3,168.3v5.2M467.9,170.9h5.2M470.5,168.3v5.2M473.9,170.9h5.2M476.5,168.3v5.2M476.9,170.9h5.2M479.5,168.3v5.2M480.0,170.9h5.2M482.6,168.3v5.2M483.3,170.9h5.2M485.9,168.3v5.2M486.3,170.9h5.2M488.9,168.3v5.2M489.7,170.9h5.2M492.3,168.3v5.2M492.7,170.9h5.2M495.3,168.3v5.2M498.8,170.9h5.2M501.4,168.3v5.2M508.2,170.9h5.2M510.8,168.3v5.2M520.7,170.9h5.2M523.3,168.3v5.2M545.0,170.9h5.2M547.6,168.3v5.2M638.2,170.9h5.2M640.8,168.3v5.2M328.8,286.3h5.2M331.4,283.7v5.2M375.0,286.3h5.2M377.6,283.7v5.2M433.7,286.3h5.2M436.3,283.7v5.2M446.4,286.3h5.2M449.0,283.7v5.2M458.7,286.3h5.2M461.3,283.7v5.2M467.9,286.3h5.2M470.5,283.7v5.2M473.9,286.3h5.2M476.5,283.7v5.2M476.9,286.3h5.2M479.5,283.7v5.2M480.0,286.3h5.2M482.6,283.7v5.2M483.3,286.3h5.2M485.9,283.7v5.2M486.3,286.3h5.2M488.9,283.7v5.2M489.7,286.3h5.2M492.3,283.7v5.2M492.7,286.3h5.2M495.3,283.7v5.2M498.8,286.3h5.2M501.4,283.7v5.2M508.2,286.3h5.2M510.8,283.7v5.2M520.7,286.3h5.2M523.3,283.7v5.2M545.0,286.3h5.2M547.6,283.7v5.2M638.2,286.3h5.2M640.8,283.7v5.2M328.8,334.0h5.2M331.4,331.4v5.2M375.0,334.0h5.2M377.6,331.4v5.2M433.7,334.0h5.2M436.3,331.4v5.2M446.4,334.0h5.2M449.0,331.4v5.2M458.7,334.0h5.2M461.3,331.4v5.2M467.9,334.0h5.2M470.5,331.4v5.2M473.9,334.0h5.2M476.5,331.4v5.2M476.9,334.0h5.2M479.5,331.4v5.2M480.0,334.0h5.2M482.6,331.4v5.2M483.3,334.0h5.2M485.9,331.4v5.2M486.3,334.0h5.2M488.9,331.4v5.2M489.7,334.0h5.2M492.3,331.4v5.2M492.7,334.0h5.2M495.3,331.4v5.2M498.8,334.0h5.2M501.4,331.4v5.2M508.2,334.0h5.2M510.8,331.4v5.2M520.7,334.0h5.2M523.3,331.4v5.2M545.0,334.0h5.2M547.6,331.4v5.2M638.2,334.0h5.2M640.8,331.4v5.2" stroke="#000" stroke-width="1.0" fill="none"/>
<polyline points="316.2,191.5 329.1,198.9 344.2,207.4 359.3,216.8 376.3,224.3 395.1,231.9 400.0,233.3 412.1,236.6 423.0,238.3 436.4,242.0 460.6,244.4 492.1,247.3 509.1,248.5 528.5,251.2 545.5,252.9 562.4,256.7 584.8,261.2 607.2,265.7 629.5,269.0 652.8,271.5" fill="none" stroke="#000" stroke-width="1.3" stroke-linejoin="round"/>
<polygon points="314.9,191.3 320.7,191.3 318.0,185.9" fill="#000"/>
<polygon points="354.9,216.9 360.7,216.9 358.0,211.5" fill="#000"/>
<polygon points="420.2,239.2 426.0,239.2 423.3,233.8" fill="#000"/>
<polygon points="488.7,248.2 494.5,248.2 491.8,242.8" fill="#000"/>
<polygon points="542.6,253.9 548.4,253.9 545.7,248.5" fill="#000"/>
<polygon points="596.4,265.2 602.2,265.2 599.5,259.8" fill="#000"/>
<circle cx="419.1" cy="98.1" r="2.55" fill="#aef2f6" stroke="#0a0a0a" stroke-width="1.0"/>
<circle cx="410.3" cy="103.1" r="2.55" fill="#cc1020" stroke="#0a0a0a" stroke-width="1.0"/>
<circle cx="433.8" cy="126.3" r="2.55" fill="#cc1020" stroke="#0a0a0a" stroke-width="1.0"/>
<circle cx="417.5" cy="135.4" r="2.55" fill="#cc1020" stroke="#0a0a0a" stroke-width="1.0"/>
<circle cx="470.6" cy="131.3" r="2.55" fill="#cc1020" stroke="#0a0a0a" stroke-width="1.0"/>
<circle cx="405.9" cy="141.6" r="2.55" fill="#aef2f6" stroke="#0a0a0a" stroke-width="1.0"/>
<circle cx="511.6" cy="95.9" r="2.55" fill="#cc1020" stroke="#0a0a0a" stroke-width="1.0"/>
<circle cx="517.3" cy="124.6" r="2.55" fill="#f2f050" stroke="#0a0a0a" stroke-width="1.0"/>
<circle cx="497.5" cy="131.2" r="2.55" fill="#f47a1e" stroke="#0a0a0a" stroke-width="1.0"/>
<circle cx="504" cy="131.3" r="2.55" fill="#cc1020" stroke="#0a0a0a" stroke-width="1.0"/>
<circle cx="515" cy="130.4" r="2.55" fill="#cc1020" stroke="#0a0a0a" stroke-width="1.0"/>
<circle cx="529.4" cy="140.3" r="2.55" fill="#cc1020" stroke="#0a0a0a" stroke-width="1.0"/>
<circle cx="529.4" cy="143.1" r="2.55" fill="#cc1020" stroke="#0a0a0a" stroke-width="1.0"/>
<circle cx="427.8" cy="144.7" r="2.55" fill="#2450e0" stroke="#0a0a0a" stroke-width="1.0"/>
<circle cx="427.5" cy="153.7" r="2.55" fill="#1eb2f2" stroke="#0a0a0a" stroke-width="1.0"/>
<circle cx="412.5" cy="160.4" r="2.55" fill="#aef2f6" stroke="#0a0a0a" stroke-width="1.0"/>
<circle cx="426.3" cy="158.3" r="2.55" fill="#4cd6f2" stroke="#0a0a0a" stroke-width="1.0"/>
<circle cx="454.4" cy="153.5" r="2.55" fill="#4cd6f2" stroke="#0a0a0a" stroke-width="1.0"/>
<circle cx="460" cy="152.3" r="2.55" fill="#cc1020" stroke="#0a0a0a" stroke-width="1.0"/>
<circle cx="466.8" cy="154.2" r="2.55" fill="#f47a1e" stroke="#0a0a0a" stroke-width="1.0"/>
<circle cx="464.3" cy="158.4" r="2.55" fill="#4cd6f2" stroke="#0a0a0a" stroke-width="1.0"/>
<circle cx="470.5" cy="159.1" r="2.55" fill="#4cd6f2" stroke="#0a0a0a" stroke-width="1.0"/>
<circle cx="476.4" cy="156" r="2.55" fill="#f47a1e" stroke="#0a0a0a" stroke-width="1.0"/>
<circle cx="479" cy="170" r="2.55" fill="#4cd6f2" stroke="#0a0a0a" stroke-width="1.0"/>
<circle cx="465" cy="174.4" r="2.55" fill="#f2f050" stroke="#0a0a0a" stroke-width="1.0"/>
<circle cx="411.2" cy="171.8" r="2.55" fill="#f2f050" stroke="#0a0a0a" stroke-width="1.0"/>
<circle cx="405.7" cy="176.2" r="2.55" fill="#cc1020" stroke="#0a0a0a" stroke-width="1.0"/>
<circle cx="409" cy="178" r="2.55" fill="#cc1020" stroke="#0a0a0a" stroke-width="1.0"/>
<circle cx="407.4" cy="181.6" r="2.55" fill="#cc1020" stroke="#0a0a0a" stroke-width="1.0"/>
<circle cx="412.5" cy="176.2" r="2.55" fill="#aef2f6" stroke="#0a0a0a" stroke-width="1.0"/>
<circle cx="471.3" cy="178.1" r="2.55" fill="#cc1020" stroke="#0a0a0a" stroke-width="1.0"/>
<circle cx="481.5" cy="136.8" r="2.55" fill="#cc1020" stroke="#0a0a0a" stroke-width="1.0"/>
<circle cx="475.3" cy="140.6" r="2.55" fill="#cc1020" stroke="#0a0a0a" stroke-width="1.0"/>
<circle cx="482.2" cy="142.3" r="2.55" fill="#cc1020" stroke="#0a0a0a" stroke-width="1.0"/>
<circle cx="485.5" cy="143.6" r="2.55" fill="#cc1020" stroke="#0a0a0a" stroke-width="1.0"/>
<circle cx="488.3" cy="144.3" r="2.55" fill="#cc1020" stroke="#0a0a0a" stroke-width="1.0"/>
<circle cx="490" cy="144.7" r="2.55" fill="#cc1020" stroke="#0a0a0a" stroke-width="1.0"/>
<circle cx="492.5" cy="143.1" r="2.55" fill="#f47a1e" stroke="#0a0a0a" stroke-width="1.0"/>
<circle cx="483.4" cy="146.4" r="2.55" fill="#cc1020" stroke="#0a0a0a" stroke-width="1.0"/>
<circle cx="486.6" cy="147.4" r="2.55" fill="#cc1020" stroke="#0a0a0a" stroke-width="1.0"/>
<circle cx="491.1" cy="149.2" r="2.55" fill="#f47a1e" stroke="#0a0a0a" stroke-width="1.0"/>
<circle cx="510.6" cy="146" r="2.55" fill="#cc1020" stroke="#0a0a0a" stroke-width="1.0"/>
<circle cx="536.3" cy="153.1" r="2.55" fill="#f47a1e" stroke="#0a0a0a" stroke-width="1.0"/>
<circle cx="487.5" cy="155.6" r="2.55" fill="#f47a1e" stroke="#0a0a0a" stroke-width="1.0"/>
<circle cx="516.3" cy="158.1" r="2.55" fill="#f8b628" stroke="#0a0a0a" stroke-width="1.0"/>
<circle cx="481.3" cy="163.8" r="2.55" fill="#cc1020" stroke="#0a0a0a" stroke-width="1.0"/>
<circle cx="485.6" cy="162.5" r="2.55" fill="#f47a1e" stroke="#0a0a0a" stroke-width="1.0"/>
<circle cx="480" cy="170" r="2.55" fill="#4cd6f2" stroke="#0a0a0a" stroke-width="1.0"/>
<circle cx="518.8" cy="168.1" r="2.55" fill="#2450e0" stroke="#0a0a0a" stroke-width="1.0"/>
<circle cx="516.5" cy="173.1" r="2.55" fill="#4cd6f2" stroke="#0a0a0a" stroke-width="1.0"/>
<circle cx="526.9" cy="172.5" r="2.55" fill="#4cd6f2" stroke="#0a0a0a" stroke-width="1.0"/>
<circle cx="495.6" cy="175.3" r="2.55" fill="#cc1020" stroke="#0a0a0a" stroke-width="1.0"/>
<circle cx="500.3" cy="177.5" r="2.55" fill="#f47a1e" stroke="#0a0a0a" stroke-width="1.0"/>
<circle cx="505" cy="179.4" r="2.55" fill="#aef2f6" stroke="#0a0a0a" stroke-width="1.0"/>
<circle cx="520" cy="181.9" r="2.55" fill="#4cd6f2" stroke="#0a0a0a" stroke-width="1.0"/>
<circle cx="518.1" cy="184.4" r="2.55" fill="#4cd6f2" stroke="#0a0a0a" stroke-width="1.0"/>
<circle cx="521.3" cy="186.5" r="2.55" fill="#aef2f6" stroke="#0a0a0a" stroke-width="1.0"/>
<circle cx="418.3" cy="196.4" r="2.55" fill="#cc1020" stroke="#0a0a0a" stroke-width="1.0"/>
<circle cx="431.5" cy="211.5" r="2.55" fill="#aef2f6" stroke="#0a0a0a" stroke-width="1.0"/>
<circle cx="444.4" cy="209" r="2.55" fill="#f2f050" stroke="#0a0a0a" stroke-width="1.0"/>
<circle cx="438.5" cy="230" r="2.55" fill="#cc1020" stroke="#0a0a0a" stroke-width="1.0"/>
<circle cx="459.4" cy="209.6" r="2.55" fill="#f47a1e" stroke="#0a0a0a" stroke-width="1.0"/>
<circle cx="512.5" cy="191.9" r="2.55" fill="#cc1020" stroke="#0a0a0a" stroke-width="1.0"/>
<circle cx="520.6" cy="186.9" r="2.55" fill="#aef2f6" stroke="#0a0a0a" stroke-width="1.0"/>
<circle cx="518.1" cy="188.1" r="2.55" fill="#f2f050" stroke="#0a0a0a" stroke-width="1.0"/>
<circle cx="513.8" cy="206.9" r="2.55" fill="#f2f050" stroke="#0a0a0a" stroke-width="1.0"/>
<circle cx="520" cy="198.1" r="2.55" fill="#f2f050" stroke="#0a0a0a" stroke-width="1.0"/>
<circle cx="519.4" cy="203.1" r="2.55" fill="#f2f050" stroke="#0a0a0a" stroke-width="1.0"/>
<circle cx="520" cy="212.8" r="2.55" fill="#f2f050" stroke="#0a0a0a" stroke-width="1.0"/>
<circle cx="534.8" cy="194" r="2.55" fill="#f2f050" stroke="#0a0a0a" stroke-width="1.0"/>
<circle cx="536.3" cy="201" r="2.55" fill="#aef2f6" stroke="#0a0a0a" stroke-width="1.0"/>
<circle cx="535" cy="217.3" r="2.55" fill="#f47a1e" stroke="#0a0a0a" stroke-width="1.0"/>
<circle cx="536.5" cy="226.3" r="2.55" fill="#f8b628" stroke="#0a0a0a" stroke-width="1.0"/>
<circle cx="513.8" cy="225.6" r="2.55" fill="#f47a1e" stroke="#0a0a0a" stroke-width="1.0"/>
<circle cx="438" cy="229.8" r="2.55" fill="#cc1020" stroke="#0a0a0a" stroke-width="1.0"/>
<circle cx="424.2" cy="241.5" r="2.55" fill="#f8b628" stroke="#0a0a0a" stroke-width="1.0"/>
<circle cx="455.8" cy="246.8" r="2.55" fill="#f47a1e" stroke="#0a0a0a" stroke-width="1.0"/>
<circle cx="464.2" cy="247.5" r="2.55" fill="#f8b628" stroke="#0a0a0a" stroke-width="1.0"/>
<circle cx="509.1" cy="248.5" r="2.55" fill="#cc1020" stroke="#0a0a0a" stroke-width="1.0"/>
<circle cx="522.9" cy="242" r="2.55" fill="#cc1020" stroke="#0a0a0a" stroke-width="1.0"/>
<circle cx="537" cy="226.2" r="2.55" fill="#f8b628" stroke="#0a0a0a" stroke-width="1.0"/>
<circle cx="468" cy="183.1" r="2.55" fill="#f8b628" stroke="#0a0a0a" stroke-width="1.0"/>
<circle cx="472.3" cy="181.5" r="2.55" fill="#f47a1e" stroke="#0a0a0a" stroke-width="1.0"/>
<circle cx="482.7" cy="181.2" r="2.55" fill="#f8b628" stroke="#0a0a0a" stroke-width="1.0"/>
<circle cx="491.2" cy="183.4" r="2.55" fill="#f2f050" stroke="#0a0a0a" stroke-width="1.0"/>
<circle cx="468.6" cy="188.8" r="2.55" fill="#cc1020" stroke="#0a0a0a" stroke-width="1.0"/>
<circle cx="477.8" cy="189.2" r="2.55" fill="#f47a1e" stroke="#0a0a0a" stroke-width="1.0"/>
<circle cx="483.9" cy="186.1" r="2.55" fill="#f8b628" stroke="#0a0a0a" stroke-width="1.0"/>
<circle cx="480.2" cy="190.4" r="2.55" fill="#f8b628" stroke="#0a0a0a" stroke-width="1.0"/>
<circle cx="483.9" cy="192" r="2.55" fill="#cc1020" stroke="#0a0a0a" stroke-width="1.0"/>
<circle cx="489.4" cy="192.9" r="2.55" fill="#f8b628" stroke="#0a0a0a" stroke-width="1.0"/>
<circle cx="474.1" cy="193.5" r="2.55" fill="#f8b628" stroke="#0a0a0a" stroke-width="1.0"/>
<circle cx="479.6" cy="194.7" r="2.55" fill="#f8b628" stroke="#0a0a0a" stroke-width="1.0"/>
<circle cx="485.1" cy="195.3" r="2.55" fill="#f47a1e" stroke="#0a0a0a" stroke-width="1.0"/>
<circle cx="492.5" cy="196.5" r="2.55" fill="#f2f050" stroke="#0a0a0a" stroke-width="1.0"/>
<circle cx="495.5" cy="199" r="2.55" fill="#f47a1e" stroke="#0a0a0a" stroke-width="1.0"/>
<circle cx="475.3" cy="198.4" r="2.55" fill="#cc1020" stroke="#0a0a0a" stroke-width="1.0"/>
<circle cx="478.4" cy="199" r="2.55" fill="#cc1020" stroke="#0a0a0a" stroke-width="1.0"/>
<circle cx="487.6" cy="198.4" r="2.55" fill="#f8b628" stroke="#0a0a0a" stroke-width="1.0"/>
<circle cx="482.7" cy="199.6" r="2.55" fill="#f47a1e" stroke="#0a0a0a" stroke-width="1.0"/>
<circle cx="488.2" cy="202.1" r="2.55" fill="#f2f050" stroke="#0a0a0a" stroke-width="1.0"/>
<circle cx="491.9" cy="200.8" r="2.55" fill="#aef2f6" stroke="#0a0a0a" stroke-width="1.0"/>
<circle cx="494.3" cy="202.7" r="2.55" fill="#f47a1e" stroke="#0a0a0a" stroke-width="1.0"/>
<circle cx="496.8" cy="203.3" r="2.55" fill="#cc1020" stroke="#0a0a0a" stroke-width="1.0"/>
<circle cx="472.9" cy="203.9" r="2.55" fill="#cc1020" stroke="#0a0a0a" stroke-width="1.0"/>
<circle cx="467.4" cy="197.8" r="2.55" fill="#f8b628" stroke="#0a0a0a" stroke-width="1.0"/>
<circle cx="464.9" cy="203.9" r="2.55" fill="#cc1020" stroke="#0a0a0a" stroke-width="1.0"/>
<circle cx="461.2" cy="203.3" r="2.55" fill="#f47a1e" stroke="#0a0a0a" stroke-width="1.0"/>
<circle cx="463.7" cy="209.4" r="2.55" fill="#f47a1e" stroke="#0a0a0a" stroke-width="1.0"/>
<circle cx="460.6" cy="208.8" r="2.55" fill="#f47a1e" stroke="#0a0a0a" stroke-width="1.0"/>
<circle cx="480.2" cy="205.1" r="2.55" fill="#cc1020" stroke="#0a0a0a" stroke-width="1.0"/>
<circle cx="485.1" cy="205.1" r="2.55" fill="#cc1020" stroke="#0a0a0a" stroke-width="1.0"/>
<circle cx="491.2" cy="205.7" r="2.55" fill="#cc1020" stroke="#0a0a0a" stroke-width="1.0"/>
<circle cx="489.4" cy="209.4" r="2.55" fill="#f8b628" stroke="#0a0a0a" stroke-width="1.0"/>
<circle cx="483.9" cy="208.8" r="2.55" fill="#cc1020" stroke="#0a0a0a" stroke-width="1.0"/>
<circle cx="477.8" cy="207" r="2.55" fill="#f8b628" stroke="#0a0a0a" stroke-width="1.0"/>
<circle cx="477.2" cy="211.3" r="2.55" fill="#cc1020" stroke="#0a0a0a" stroke-width="1.0"/>
<circle cx="482.7" cy="213.7" r="2.55" fill="#f47a1e" stroke="#0a0a0a" stroke-width="1.0"/>
<circle cx="477.8" cy="215.5" r="2.55" fill="#cc1020" stroke="#0a0a0a" stroke-width="1.0"/>
<circle cx="478.4" cy="219.8" r="2.55" fill="#f47a1e" stroke="#0a0a0a" stroke-width="1.0"/>
<circle cx="484.5" cy="219.2" r="2.55" fill="#f47a1e" stroke="#0a0a0a" stroke-width="1.0"/>
<circle cx="487.6" cy="221.1" r="2.55" fill="#f47a1e" stroke="#0a0a0a" stroke-width="1.0"/>
<circle cx="474.7" cy="223.5" r="2.55" fill="#cc1020" stroke="#0a0a0a" stroke-width="1.0"/>
<circle cx="488.2" cy="225.3" r="2.55" fill="#f47a1e" stroke="#0a0a0a" stroke-width="1.0"/>
<circle cx="503.5" cy="216.2" r="2.55" fill="#f2f050" stroke="#0a0a0a" stroke-width="1.0"/>
<circle cx="501" cy="185.5" r="2.55" fill="#cc1020" stroke="#0a0a0a" stroke-width="1.0"/>
<circle cx="499.2" cy="188.6" r="2.55" fill="#f2f050" stroke="#0a0a0a" stroke-width="1.0"/>
<circle cx="502.9" cy="190.4" r="2.55" fill="#f8b628" stroke="#0a0a0a" stroke-width="1.0"/>
<circle cx="507.8" cy="188.6" r="2.55" fill="#cc1020" stroke="#0a0a0a" stroke-width="1.0"/>
<circle cx="502.3" cy="194.7" r="2.55" fill="#f8b628" stroke="#0a0a0a" stroke-width="1.0"/>
<circle cx="506.6" cy="197.2" r="2.55" fill="#cc1020" stroke="#0a0a0a" stroke-width="1.0"/>
<circle cx="509" cy="198.4" r="2.55" fill="#f47a1e" stroke="#0a0a0a" stroke-width="1.0"/>
<circle cx="509" cy="202.7" r="2.55" fill="#f47a1e" stroke="#0a0a0a" stroke-width="1.0"/>
<circle cx="475.2" cy="226.5" r="2.55" fill="#cc1020" stroke="#0a0a0a" stroke-width="1.0"/>
<circle cx="487.3" cy="226.5" r="2.55" fill="#f47a1e" stroke="#0a0a0a" stroke-width="1.0"/>
<circle cx="532.6" cy="122.2" r="2.55" fill="#f2f050" stroke="#0a0a0a" stroke-width="1.0"/>
<circle cx="425.7" cy="161.4" r="2.55" fill="#4cd6f2" stroke="#0a0a0a" stroke-width="1.0"/>
<circle cx="424.2" cy="165.7" r="2.55" fill="#aef2f6" stroke="#0a0a0a" stroke-width="1.0"/>
<circle cx="430.4" cy="171.8" r="2.55" fill="#4cd6f2" stroke="#0a0a0a" stroke-width="1.0"/>
<circle cx="431.8" cy="175.1" r="2.55" fill="#4cd6f2" stroke="#0a0a0a" stroke-width="1.0"/>
<circle cx="428" cy="175.6" r="2.55" fill="#f47a1e" stroke="#0a0a0a" stroke-width="1.0"/>
<circle cx="435.1" cy="172.3" r="2.55" fill="#f2f050" stroke="#0a0a0a" stroke-width="1.0"/>
<circle cx="445.5" cy="174.2" r="2.55" fill="#aef2f6" stroke="#0a0a0a" stroke-width="1.0"/>
<circle cx="443.6" cy="173.7" r="2.55" fill="#cc1020" stroke="#0a0a0a" stroke-width="1.0"/>
<circle cx="438.4" cy="174.6" r="2.55" fill="#f47a1e" stroke="#0a0a0a" stroke-width="1.0"/>
<circle cx="451.1" cy="168" r="2.55" fill="#cc1020" stroke="#0a0a0a" stroke-width="1.0"/>
<circle cx="436" cy="179.3" r="2.55" fill="#f47a1e" stroke="#0a0a0a" stroke-width="1.0"/>
<circle cx="440.8" cy="177.5" r="2.55" fill="#f2f050" stroke="#0a0a0a" stroke-width="1.0"/>
<circle cx="442.6" cy="180.8" r="2.55" fill="#cc1020" stroke="#0a0a0a" stroke-width="1.0"/>
<circle cx="440.3" cy="183.6" r="2.55" fill="#f2f050" stroke="#0a0a0a" stroke-width="1.0"/>
<circle cx="428.5" cy="182.2" r="2.55" fill="#f47a1e" stroke="#0a0a0a" stroke-width="1.0"/>
<circle cx="432.7" cy="183.6" r="2.55" fill="#f8b628" stroke="#0a0a0a" stroke-width="1.0"/>
<circle cx="450.2" cy="179.8" r="2.55" fill="#f47a1e" stroke="#0a0a0a" stroke-width="1.0"/>
<circle cx="454.9" cy="179.8" r="2.55" fill="#f8b628" stroke="#0a0a0a" stroke-width="1.0"/>
<circle cx="446.4" cy="185" r="2.55" fill="#cc1020" stroke="#0a0a0a" stroke-width="1.0"/>
<circle cx="453.5" cy="185" r="2.55" fill="#f2f050" stroke="#0a0a0a" stroke-width="1.0"/>
<circle cx="423.3" cy="186" r="2.55" fill="#f47a1e" stroke="#0a0a0a" stroke-width="1.0"/>
<circle cx="427.1" cy="190.2" r="2.55" fill="#f47a1e" stroke="#0a0a0a" stroke-width="1.0"/>
<circle cx="428" cy="196.3" r="2.55" fill="#f8b628" stroke="#0a0a0a" stroke-width="1.0"/>
<circle cx="420.3" cy="179.3" r="2.55" fill="#4cd6f2" stroke="#0a0a0a" stroke-width="1.0"/>
<circle cx="422.8" cy="199.2" r="2.55" fill="#f8b628" stroke="#0a0a0a" stroke-width="1.0"/>
<path d="M443.2,170.5 Q446.5,166.2 450.6,169.6 L449.4,177.8 Q446.8,180.2 444.6,178.2" fill="none" stroke="#000" stroke-width="1.0"/>
<polygon points="407.70,116.00 413.90,116.00 410.80,121.40" fill="#dce23c" stroke="#111" stroke-width="0.9"/>
<polygon points="439.40,124.80 445.60,124.80 442.50,130.20" fill="#dce23c" stroke="#111" stroke-width="0.9"/>
<polygon points="430.70,136.10 436.90,136.10 433.80,141.50" fill="#dce23c" stroke="#111" stroke-width="0.9"/>
<polygon points="457.50,136.10 463.70,136.10 460.60,141.50" fill="#dce23c" stroke="#111" stroke-width="0.9"/>
<polygon points="500.00,104.60 506.20,104.60 503.10,110.00" fill="#dce23c" stroke="#111" stroke-width="0.9"/>
<polygon points="530.00,119.20 536.20,119.20 533.10,124.60" fill="#dce23c" stroke="#111" stroke-width="0.9"/>
<polygon points="482.50,126.30 488.70,126.30 485.60,131.70" fill="#dce23c" stroke="#111" stroke-width="0.9"/>
<polygon points="517.50,137.30 523.70,137.30 520.60,142.70" fill="#dce23c" stroke="#111" stroke-width="0.9"/>
<polygon points="414.40,151.50 420.60,151.50 417.50,156.90" fill="#dce23c" stroke="#111" stroke-width="0.9"/>
<polygon points="439.40,147.90 445.60,147.90 442.50,153.30" fill="#dce23c" stroke="#111" stroke-width="0.9"/>
<polygon points="528.20,150.40 534.40,150.40 531.30,155.80" fill="#dce23c" stroke="#111" stroke-width="0.9"/>
<polygon points="477.70,152.50 483.90,152.50 480.80,157.90" fill="#dce23c" stroke="#111" stroke-width="0.9"/>
<polygon points="485.50,155.90 491.70,155.90 488.60,161.30" fill="#dce23c" stroke="#111" stroke-width="0.9"/>
<polygon points="499.40,153.60 505.60,153.60 502.50,159.00" fill="#dce23c" stroke="#111" stroke-width="0.9"/>
<polygon points="507.50,165.80 513.70,165.80 510.60,171.20" fill="#dce23c" stroke="#111" stroke-width="0.9"/>
<polygon points="529.40,166.10 535.60,166.10 532.50,171.50" fill="#dce23c" stroke="#111" stroke-width="0.9"/>
<text x="356.60" y="114.80" font-family="'Liberation Sans', Arial, Helvetica, sans-serif" font-size="13.2" font-weight="normal" text-anchor="middle" fill="#1a1a1a" >Java</text>
<g transform="translate(350.0,232.8) rotate(15.6)"><text x="0.00" y="0.00" font-family="'Liberation Sans', Arial, Helvetica, sans-serif" font-size="13.3" font-weight="normal" text-anchor="start" fill="#1a1a1a" >Java Trench</text></g>
<polygon points="590.70,286.50 592.79,284.41 590.70,274.20" fill="#000" stroke="#000" stroke-width="0.3"/>
<polygon points="590.70,286.50 588.61,284.41 590.70,274.20" fill="#fff" stroke="#000" stroke-width="0.35"/>
<polygon points="590.70,286.50 592.79,288.59 603.00,286.50" fill="#000" stroke="#000" stroke-width="0.3"/>
<polygon points="590.70,286.50 592.79,284.41 603.00,286.50" fill="#fff" stroke="#000" stroke-width="0.35"/>
<polygon points="590.70,286.50 588.61,288.59 590.70,298.80" fill="#000" stroke="#000" stroke-width="0.3"/>
<polygon points="590.70,286.50 592.79,288.59 590.70,298.80" fill="#fff" stroke="#000" stroke-width="0.35"/>
<polygon points="590.70,286.50 588.61,284.41 578.40,286.50" fill="#000" stroke="#000" stroke-width="0.3"/>
<polygon points="590.70,286.50 588.61,288.59 578.40,286.50" fill="#fff" stroke="#000" stroke-width="0.35"/>
<polygon points="593.06,286.50 597.21,279.99 590.70,284.14 590.70,286.50" fill="#000" stroke="#000" stroke-width="0.3"/>
<polygon points="590.70,288.86 597.21,293.01 593.06,286.50 590.70,286.50" fill="#000" stroke="#000" stroke-width="0.3"/>
<polygon points="588.34,286.50 584.19,293.01 590.70,288.86 590.70,286.50" fill="#000" stroke="#000" stroke-width="0.3"/>
<polygon points="590.70,284.14 584.19,279.99 588.34,286.50 590.70,286.50" fill="#000" stroke="#000" stroke-width="0.3"/>
<text x="590.70" y="271.80" font-family="'Liberation Sans', Arial, Helvetica, sans-serif" font-size="8.2" font-weight="normal" text-anchor="middle" fill="#111" >N</text>
<text x="590.90" y="308.40" font-family="'Liberation Sans', Arial, Helvetica, sans-serif" font-size="8.2" font-weight="normal" text-anchor="middle" fill="#111" >S</text>
<text x="572.10" y="290.00" font-family="'Liberation Sans', Arial, Helvetica, sans-serif" font-size="8.2" font-weight="normal" text-anchor="middle" fill="#111" >W</text>
<text x="608.60" y="290.00" font-family="'Liberation Sans', Arial, Helvetica, sans-serif" font-size="8.2" font-weight="normal" text-anchor="middle" fill="#111" >E</text>
<rect x="560.10" y="314.90" width="15.22" height="2.40" fill="#000" stroke="#000" stroke-width="0.4"/>
<rect x="575.33" y="314.90" width="15.22" height="2.40" fill="#fff" stroke="#000" stroke-width="0.4"/>
<rect x="590.55" y="314.90" width="15.22" height="2.40" fill="#000" stroke="#000" stroke-width="0.4"/>
<rect x="605.77" y="314.90" width="15.22" height="2.40" fill="#fff" stroke="#000" stroke-width="0.4"/>
<line x1="560.10" y1="314.90" x2="560.10" y2="318.80" stroke="#000" stroke-width="0.5"/>
<text x="560.10" y="334.00" font-family="'Liberation Sans', Arial, Helvetica, sans-serif" font-size="12.4" font-weight="normal" text-anchor="middle" fill="#111" >0</text>
<line x1="590.55" y1="314.90" x2="590.55" y2="318.80" stroke="#000" stroke-width="0.5"/>
<text x="590.55" y="334.00" font-family="'Liberation Sans', Arial, Helvetica, sans-serif" font-size="12.4" font-weight="normal" text-anchor="middle" fill="#111" >100</text>
<line x1="621.00" y1="314.90" x2="621.00" y2="318.80" stroke="#000" stroke-width="0.5"/>
<text x="621.00" y="334.00" font-family="'Liberation Sans', Arial, Helvetica, sans-serif" font-size="12.4" font-weight="normal" text-anchor="middle" fill="#111" >200</text>
<text x="626.00" y="320.20" font-family="'Liberation Sans', Arial, Helvetica, sans-serif" font-size="12.4" font-weight="normal" text-anchor="start" fill="#111" >km</text>
</g>
<rect x="316.20" y="2.20" width="17.00" height="5.20" fill="#000"/>
<rect x="316.20" y="342.60" width="17.00" height="5.40" fill="#000"/>
<rect x="402.00" y="2.20" width="68.50" height="5.20" fill="#000"/>
<rect x="402.00" y="342.60" width="68.50" height="5.40" fill="#000"/>
<rect x="539.00" y="2.20" width="68.60" height="5.20" fill="#000"/>
<rect x="539.00" y="342.60" width="68.60" height="5.40" fill="#000"/>
<rect x="310.50" y="7.40" width="5.70" height="17.10" fill="#000"/>
<rect x="652.80" y="7.40" width="5.40" height="17.10" fill="#000"/>
<rect x="310.50" y="93.10" width="5.70" height="68.80" fill="#000"/>
<rect x="652.80" y="93.10" width="5.40" height="68.80" fill="#000"/>
<rect x="310.50" y="231.10" width="5.70" height="69.40" fill="#000"/>
<rect x="652.80" y="231.10" width="5.40" height="69.40" fill="#000"/>
<rect x="310.50" y="2.20" width="347.70" height="345.80" fill="none" stroke="#000" stroke-width="0.7"/>
<rect x="316.20" y="7.40" width="336.60" height="335.20" fill="none" stroke="#000" stroke-width="0.7"/>
<path d="M316.20,2.20V7.40M652.80,2.20V7.40M316.20,342.60V348.00M652.80,342.60V348.00M310.50,7.40H316.20M652.80,7.40H658.20M310.50,342.60H316.20M652.80,342.60H658.20" stroke="#000" stroke-width="0.7" fill="none"/>
<text x="304.80" y="29.00" font-family="'Liberation Sans', Arial, Helvetica, sans-serif" font-size="13" font-weight="normal" text-anchor="end" fill="#111" >4<tspan font-size="9.5" dx="0.6" dy="-1.8">˚</tspan><tspan dx="0.6" dy="1.8">S</tspan></text>
<text x="304.80" y="97.60" font-family="'Liberation Sans', Arial, Helvetica, sans-serif" font-size="13" font-weight="normal" text-anchor="end" fill="#111" >6<tspan font-size="9.5" dx="0.6" dy="-1.8">˚</tspan><tspan dx="0.6" dy="1.8">S</tspan></text>
<text x="304.80" y="166.40" font-family="'Liberation Sans', Arial, Helvetica, sans-serif" font-size="13" font-weight="normal" text-anchor="end" fill="#111" >8<tspan font-size="9.5" dx="0.6" dy="-1.8">˚</tspan><tspan dx="0.6" dy="1.8">S</tspan></text>
<text x="304.80" y="235.60" font-family="'Liberation Sans', Arial, Helvetica, sans-serif" font-size="13" font-weight="normal" text-anchor="end" fill="#111" >10<tspan font-size="9.5" dx="0.6" dy="-1.8">˚</tspan><tspan dx="0.6" dy="1.8">S</tspan></text>
<text x="304.80" y="305.00" font-family="'Liberation Sans', Arial, Helvetica, sans-serif" font-size="13" font-weight="normal" text-anchor="end" fill="#111" >12<tspan font-size="9.5" dx="0.6" dy="-1.8">˚</tspan><tspan dx="0.6" dy="1.8">S</tspan></text>
<text x="333.20" y="363.00" font-family="'Liberation Sans', Arial, Helvetica, sans-serif" font-size="13" font-weight="normal" text-anchor="middle" fill="#111" >106<tspan font-size="9.5" dx="0.6" dy="-1.8">˚</tspan><tspan dx="0.6" dy="1.8">E</tspan></text>
<text x="402.00" y="363.00" font-family="'Liberation Sans', Arial, Helvetica, sans-serif" font-size="13" font-weight="normal" text-anchor="middle" fill="#111" >108<tspan font-size="9.5" dx="0.6" dy="-1.8">˚</tspan><tspan dx="0.6" dy="1.8">E</tspan></text>
<text x="470.50" y="363.00" font-family="'Liberation Sans', Arial, Helvetica, sans-serif" font-size="13" font-weight="normal" text-anchor="middle" fill="#111" >110<tspan font-size="9.5" dx="0.6" dy="-1.8">˚</tspan><tspan dx="0.6" dy="1.8">E</tspan></text>
<text x="539.00" y="363.00" font-family="'Liberation Sans', Arial, Helvetica, sans-serif" font-size="13" font-weight="normal" text-anchor="middle" fill="#111" >112<tspan font-size="9.5" dx="0.6" dy="-1.8">˚</tspan><tspan dx="0.6" dy="1.8">E</tspan></text>
<text x="607.60" y="363.00" font-family="'Liberation Sans', Arial, Helvetica, sans-serif" font-size="13" font-weight="normal" text-anchor="middle" fill="#111" >114<tspan font-size="9.5" dx="0.6" dy="-1.8">˚</tspan><tspan dx="0.6" dy="1.8">E</tspan></text>
<text x="297.10" y="335.50" font-family="'Liberation Sans', Arial, Helvetica, sans-serif" font-size="19.5" font-weight="bold" text-anchor="middle" fill="#000" >b</text>
<rect x="376.60" y="375.9" width="18.68" height="12.40" fill="#fe0000"/>
<rect x="394.98" y="375.9" width="18.68" height="12.40" fill="#ff6e00"/>
<rect x="413.36" y="375.9" width="18.68" height="12.40" fill="#ffa000"/>
<rect x="431.74" y="375.9" width="18.68" height="12.40" fill="#ffb810"/>
<rect x="450.12" y="375.9" width="18.68" height="12.40" fill="#ffff50"/>
<rect x="468.50" y="375.9" width="18.68" height="12.40" fill="#a8f8ff"/>
<rect x="486.88" y="375.9" width="18.68" height="12.40" fill="#58f4ff"/>
<rect x="505.26" y="375.9" width="18.68" height="12.40" fill="#10c4f8"/>
<rect x="523.64" y="375.9" width="18.68" height="12.40" fill="#20b0f8"/>
<rect x="542.02" y="375.9" width="18.68" height="12.40" fill="#2860f0"/>
<rect x="376.60" y="375.9" width="183.80" height="12.40" fill="none" stroke="#000" stroke-width="1.2"/>
<line x1="376.60" y1="388.3" x2="376.60" y2="393.7" stroke="#000" stroke-width="0.6"/>
<text x="376.60" y="408.20" font-family="'Liberation Sans', Arial, Helvetica, sans-serif" font-size="12.4" font-weight="normal" text-anchor="middle" fill="#111" >0</text>
<line x1="413.36" y1="388.3" x2="413.36" y2="393.7" stroke="#000" stroke-width="0.6"/>
<text x="413.36" y="408.20" font-family="'Liberation Sans', Arial, Helvetica, sans-serif" font-size="12.4" font-weight="normal" text-anchor="middle" fill="#111" >30</text>
<line x1="450.12" y1="388.3" x2="450.12" y2="393.7" stroke="#000" stroke-width="0.6"/>
<text x="450.12" y="408.20" font-family="'Liberation Sans', Arial, Helvetica, sans-serif" font-size="12.4" font-weight="normal" text-anchor="middle" fill="#111" >60</text>
<line x1="486.88" y1="388.3" x2="486.88" y2="393.7" stroke="#000" stroke-width="0.6"/>
<text x="486.88" y="408.20" font-family="'Liberation Sans', Arial, Helvetica, sans-serif" font-size="12.4" font-weight="normal" text-anchor="middle" fill="#111" >90</text>
<line x1="523.64" y1="388.3" x2="523.64" y2="393.7" stroke="#000" stroke-width="0.6"/>
<text x="523.64" y="408.20" font-family="'Liberation Sans', Arial, Helvetica, sans-serif" font-size="12.4" font-weight="normal" text-anchor="middle" fill="#111" >120</text>
<line x1="560.40" y1="388.3" x2="560.40" y2="393.7" stroke="#000" stroke-width="0.6"/>
<text x="560.40" y="408.20" font-family="'Liberation Sans', Arial, Helvetica, sans-serif" font-size="12.4" font-weight="normal" text-anchor="middle" fill="#111" >150</text>
<text x="468.40" y="420.20" font-family="'Liberation Sans', Arial, Helvetica, sans-serif" font-size="10.7" font-weight="normal" text-anchor="middle" fill="#111" >Focal Depth (km)</text>
</svg></body></html>
